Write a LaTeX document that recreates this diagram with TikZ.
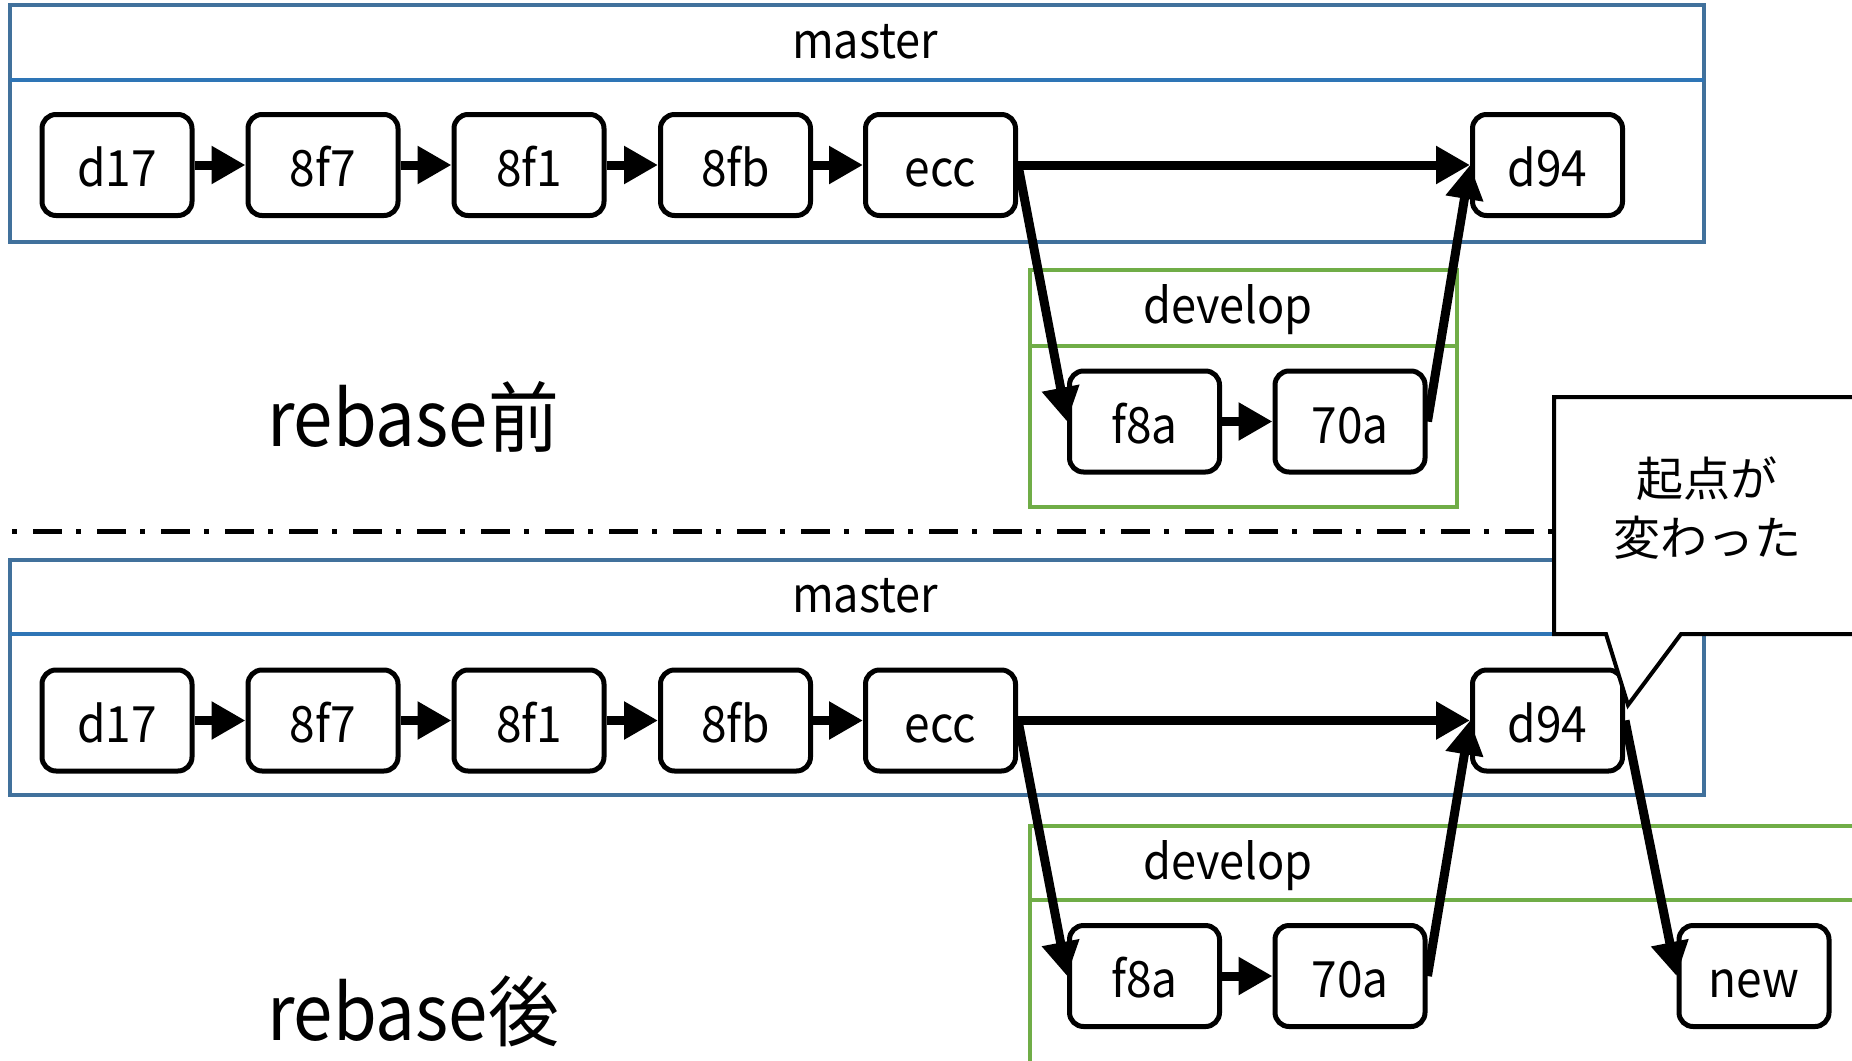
\documentclass[tikz,border=0pt]{standalone}
\usepackage{fontspec}
\setmainfont{Noto Sans CJK JP}[FakeStretch=0.92]
\newfontfamily\jpfont{Noto Sans CJK JP}
\usetikzlibrary{arrows.meta}
\definecolor{mblue}{HTML}{41719C}
\definecolor{dblue}{HTML}{2E75B6}
\definecolor{dgreen}{HTML}{70AD47}
\begin{document}
\begin{tikzpicture}[x=1pt,y=-1pt,
  commit/.style={draw, line width=5pt, rounded corners=14pt, fill=white,
    minimum width=150pt, minimum height=101pt, inner sep=0pt,
    text height=43pt, text depth=0pt, font=\fontsize{50pt}{60pt}\selectfont},
  lbl/.style={font=\fontsize{49pt}{58pt}\selectfont, inner sep=0pt, anchor=base},
  big/.style={font=\fontsize{77pt}{90pt}\selectfont, inner sep=0pt, anchor=base},
  conn/.style={line width=9pt, -{Triangle[length=34pt,width=36pt]}},
  outerbox/.style={draw=mblue, line width=4.5pt},
  divline/.style={draw=dblue, line width=4.5pt},
  greenbox/.style={draw=dgreen, line width=4.5pt},
  sep/.style={line width=5pt, dash pattern=on 5pt off 16pt on 29pt off 14pt},
  callout/.style={draw=black, fill=white, line width=4pt, line join=miter}
]
\useasboundingbox (0,0) rectangle (1852,1060);
\clip (0,0) rectangle (1852,1060);

% ---------- upper part (before rebase) ----------
\draw[outerbox] (10,5) rectangle (1704,242);
\draw[divline] (10,80) -- (1704,80);
\node[lbl] (m1) at (865,58) {master};

\draw[greenbox] (1030,270) rectangle (1457,507);
\draw[greenbox] (1030,346) -- (1457,346);
\node[lbl] (dv1) at (1228,323) {develop};

\node[commit] (a1) at (117,165) {d17};
\node[commit] (b1) at (323,165) {8f7};
\node[commit] (c1) at (529,165) {8f1};
\node[commit] (e1) at (735.5,165) {8fb};
\node[commit] (f1) at (940.5,165) {ecc};
\node[commit] (g1) at (1547.5,165) {d94};
\node[commit] (h1) at (1144.5,421.5) {f8a};
\node[commit] (i1) at (1350,421.5) {70a};

\draw[conn] (a1.east) -- (b1.west);
\draw[conn] (b1.east) -- (c1.west);
\draw[conn] (c1.east) -- (e1.west);
\draw[conn] (e1.east) -- (f1.west);
\draw[conn] (f1.east) -- (g1.west);
\draw[conn] (f1.east) -- (h1.west);
\draw[conn] (h1.east) -- (i1.west);
\draw[conn] (i1.east) -- (g1.west);

\node[big] (t1) at (413,446) {rebase前};

% ---------- separator ----------
\coordinate (s0) at (12,531);
\coordinate (s1) at (1600,531);
\draw[sep] (s0) -- (s1);

% ---------- lower part (after rebase) ----------
\draw[outerbox] (10,560) rectangle (1704,795);
\draw[divline] (10,634) -- (1704,634);
\node[lbl] (m2) at (865,612) {master};

\draw[greenbox] (1030,826) rectangle (1910,1110);
\draw[greenbox] (1030,900) -- (1910,900);
\node[lbl] (dv2) at (1228,879) {develop};

\node[commit] (a2) at (117,720.5) {d17};
\node[commit] (b2) at (323,720.5) {8f7};
\node[commit] (c2) at (529,720.5) {8f1};
\node[commit] (e2) at (735.5,720.5) {8fb};
\node[commit] (f2) at (940.5,720.5) {ecc};
\node[commit] (g2) at (1547.5,720.5) {d94};
\node[commit] (h2) at (1144.5,976) {f8a};
\node[commit] (i2) at (1350,976) {70a};
\node[commit] (n2) at (1754,976) {new};

\draw[conn] (a2.east) -- (b2.west);
\draw[conn] (b2.east) -- (c2.west);
\draw[conn] (c2.east) -- (e2.west);
\draw[conn] (e2.east) -- (f2.west);
\draw[conn] (f2.east) -- (g2.west);
\draw[conn] (f2.east) -- (h2.west);
\draw[conn] (h2.east) -- (i2.west);
\draw[conn] (i2.east) -- (g2.west);
\draw[conn] (g2.east) -- (n2.west);

\node[big] (t2) at (413,1040) {rebase後};

% ---------- callout ----------
\draw[callout] (1554,397) -- (1910,397) -- (1910,634) -- (1681,634)
  -- (1628,705) -- (1606,634) -- (1554,634) -- cycle;
\node[align=center, inner sep=0pt, font=\jpfont\fontsize{47pt}{59pt}\selectfont] (co) at (1707,508) {起点が\\変わった};
\end{tikzpicture}
\end{document}
